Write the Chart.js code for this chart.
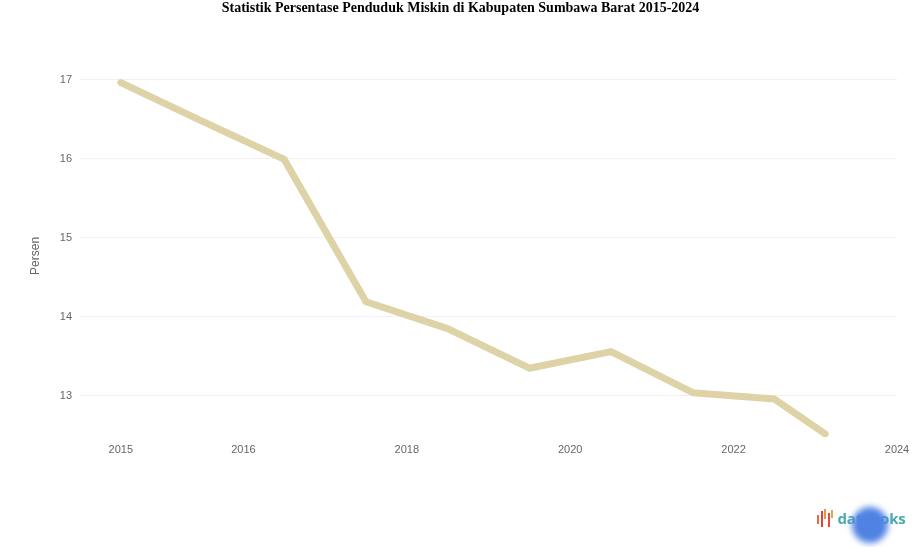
<!DOCTYPE html>
<html>
<head>
<meta charset="utf-8">
<script src="https://cdn.jsdelivr.net/npm/chart.js@4/dist/chart.umd.min.js"></script>
<style>
  body { margin: 0; background: #fff; }
  #wrap { position: relative; width: 917px; height: 547px; }
  .logo { position: absolute; left: 817px; top: 507px; height: 22px; display: flex; align-items: center; }
  .bars { display: flex; align-items: flex-start; height: 18px; margin-right: 3px; }
  .bars span { display: block; width: 2px; margin-right: 1.5px; }
  .logo .txt { font: bold 15px "Open Sans", sans-serif; color: #4aa9ab; letter-spacing: -0.2px; }
  .dot { position: absolute; left: 852px; top: 507px; width: 36px; height: 36px; border-radius: 50%;
         background: #4f82e3; filter: blur(3px); }
</style>
</head>
<body>
<div id="wrap">
  <canvas id="chart" width="917" height="547"></canvas>
  <div class="logo">
    <div class="bars">
      <span style="height:9px;margin-top:6px;background:#e8683f"></span>
      <span style="height:16px;margin-top:2px;background:#d9443a"></span>
      <span style="height:10px;margin-top:0px;background:#f0953f"></span>
      <span style="height:14px;margin-top:4px;background:#e34b3b"></span>
      <span style="height:8px;margin-top:1px;background:#f0a04a"></span>
    </div>
    <span class="txt">databoks</span>
  </div>
  <div class="dot"></div>
</div>
<script>
// data
const years = ['2015', '2016', '2017', '2018', '2019', '2020', '2021', '2022', '2023', '2024']
// where each point sits on the time axis (last one is plotted short of the year)
const period = [2015, 2016, 2017, 2018, 2019, 2020, 2021, 2022, 2023, 2023.62]
const values = [16.96, 16.47, 15.99, 14.19, 13.85, 13.35, 13.56, 13.04, 12.96, 12.52]

const yTicks = [13, 14, 15, 16, 17]
const xTickPos = [2015, 2016.5, 2018.5, 2020.5, 2022.5, 2024.5]
const xTickLabels = ['2015', '2016', '2018', '2020', '2022', '2024']

const points = period.map((p, i) => ({ x: p, y: values[i], year: years[i] }))

const ctx = document.getElementById('chart').getContext('2d')
const chart = new Chart(ctx, {
    type: 'line',
    data: {
        datasets: [{
            label: 'Persen',
            data: points,
            borderColor: '#ddd3a6',
            borderWidth: 7,
            borderCapStyle: 'round',
            borderJoinStyle: 'round',
            pointRadius: 0,
            tension: 0,
            fill: false
        }]
    },
    options: {
        responsive: false,
        animation: false,
        layout: { padding: { left: 24, right: 20, top: 0, bottom: 0 } },
        plugins: {
            legend: { display: false },
            tooltip: { enabled: false },
            title: {
                display: true,
                text: 'Statistik Persentase Penduduk Miskin di Kabupaten Sumbawa Barat 2015-2024',
                color: '#000',
                font: { family: '"Liberation Serif", "Times New Roman", serif', size: 14, weight: 'bold' },
                padding: { top: 0, bottom: 58 }
            }
        },
        scales: {
            x: {
                type: 'linear',
                min: 2014.5,
                max: 2024.5,
                grid: { display: false, drawTicks: false },
                border: { display: false },
                afterBuildTicks: (axis) => { axis.ticks = xTickPos.map(v => ({ value: v })) },
                afterFit: (axis) => { axis.height = 110 },
                ticks: {
                    padding: 6,
                    autoSkip: false,
                    maxRotation: 0,
                    color: '#666',
                    font: { family: '"Liberation Sans", Arial, sans-serif', size: 11 },
                    callback: (v, i) => xTickLabels[i]
                }
            },
            y: {
                min: 12.48,
                max: 17.06,
                grid: { color: '#f1f1f1', drawTicks: false },
                border: { display: false },
                afterBuildTicks: (axis) => { axis.ticks = yTicks.map(v => ({ value: v })) },
                afterFit: (axis) => { axis.width = 56 },
                title: {
                    display: true,
                    text: 'Persen',
                    color: '#666',
                    font: { family: '"Liberation Sans", Arial, sans-serif', size: 12 },
                    padding: { top: 4, bottom: 0 }
                },
                ticks: {
                    padding: 8,
                    color: '#666',
                    font: { family: '"Liberation Sans", Arial, sans-serif', size: 11 },
                    callback: (v) => v
                }
            }
        }
    }
})
</script>
</body>
</html>
